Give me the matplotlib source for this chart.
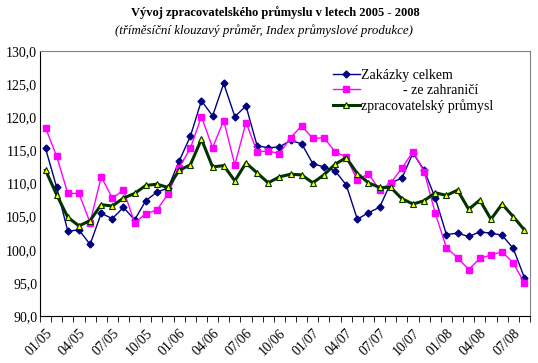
import matplotlib.pyplot as plt
import numpy as np

plt.rcParams['font.family'] = ['Liberation Serif', 'DejaVu Serif']

months = [f"{m:02d}/{y:02d}" for y in (5, 6, 7, 8) for m in range(1, 13)][:44]

zakazky = [115.3, 109.4, 102.8, 103.0, 100.8, 105.5, 104.7, 106.4, 104.5, 107.4, 108.7, 109.3,
           113.4, 117.1, 122.5, 120.2, 125.1, 120.1, 121.7, 115.7, 115.4, 115.5, 116.5, 116.0,
           113.0, 112.5, 111.9, 109.8, 104.6, 105.6, 106.4, 110.1, 110.8, 114.6, 112.0, 107.8,
           102.3, 102.5, 102.0, 102.7, 102.5, 102.2, 100.2, 95.8]
zahranici = [118.4, 114.1, 108.5, 108.5, 104.1, 111.0, 107.8, 109.0, 104.1, 105.4, 106.0, 108.4,
             112.4, 115.3, 120.1, 115.4, 119.5, 112.8, 119.2, 114.8, 114.9, 114.5, 116.9, 118.7,
             116.8, 116.9, 114.8, 114.0, 110.5, 111.5, 109.0, 110.1, 112.3, 114.8, 111.8, 105.5,
             100.3, 98.8, 97.0, 98.7, 99.2, 99.7, 98.0, 95.0]
prumysl = [112.0, 108.3, 104.9, 103.6, 104.4, 106.8, 106.6, 107.8, 108.5, 109.7, 109.9, 109.4,
           112.0, 112.8, 116.7, 112.5, 112.7, 110.4, 113.1, 111.6, 110.1, 111.0, 111.4, 111.3,
           110.1, 111.3, 112.9, 113.9, 111.5, 110.1, 109.4, 109.4, 107.7, 106.9, 107.4, 108.6,
           108.2, 109.0, 106.1, 107.5, 104.6, 106.9, 105.0, 103.0]

x = np.arange(len(months))

fig = plt.figure(figsize=(5.38, 3.63), dpi=100)
ax = fig.add_axes([0.0743, 0.1295, 0.9107, 0.73])

ax.plot(x, zakazky, '-D', color='#000080', lw=1, ms=3.5, label='Zakázky celkem')
ax.plot(x, zahranici, '-s', color='#FF00FF', lw=1, ms=5, label='            - ze zahraničí')
ax.plot(x, prumysl, '-^', color='#003300', lw=2.2, ms=5, mfc='#FFFF00', mec='#003300', mew=0.8,
        label='zpracovatelský průmysl')

ax.set_xlim(-0.5, len(months) - 0.5)
ax.set_ylim(90, 130)
ax.set_yticks(np.arange(90, 131, 5))
ax.set_yticklabels([f"{v:.1f}".replace('.', ',') for v in np.arange(90, 131, 5)], fontsize=10)
ax.set_xticks(x[::3])
ax.set_xticklabels(months[::3], rotation=45, ha='right', rotation_mode='anchor', fontsize=10)
ax.set_xticks(np.arange(-0.5, len(months), 1), minor=True)
ax.tick_params(axis='x', which='major', length=0, pad=8)
ax.tick_params(axis='x', which='minor', length=4, direction='out', color='black')
ax.tick_params(axis='y', length=0, pad=2)

ax.spines['top'].set_color('#808080')
ax.spines['right'].set_color('#808080')
ax.spines['left'].set_color('black')
ax.spines['bottom'].set_color('black')

ax.legend(loc='upper right', bbox_to_anchor=(0.945, 0.97), frameon=False, fontsize=10,
          handlelength=2.0, handletextpad=0.05, labelspacing=0.15, borderpad=0.2)

fig.text(0.512, 0.955, 'Vývoj zpracovatelského průmyslu v letech 2005 - 2008', ha='center',
         fontsize=9, fontweight='bold')
fig.text(0.49, 0.905, '(tříměsíční klouzavý průměr, Index průmyslové produkce)', ha='center',
         fontsize=9.25, style='italic')

fig.savefig('out.png', dpi=100)
